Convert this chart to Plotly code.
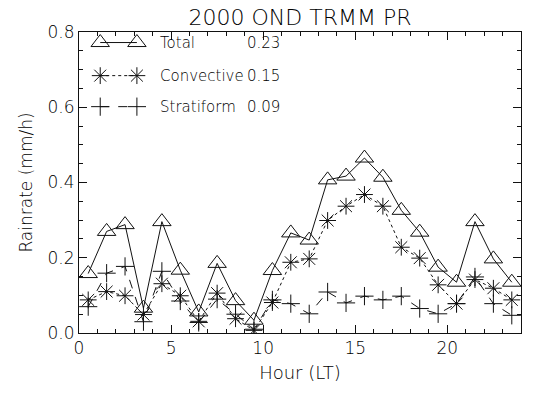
import plotly.graph_objects as go

hours = [h + 0.5 for h in range(24)]
total = [0.158, 0.270, 0.288, 0.066, 0.296, 0.167, 0.056, 0.185, 0.086, 0.034,
         0.166, 0.266, 0.247, 0.407, 0.417, 0.465, 0.414, 0.326, 0.268, 0.175,
         0.135, 0.296, 0.197, 0.135]
convective = [0.088, 0.110, 0.099, 0.049, 0.131, 0.099, 0.031, 0.106, 0.038, 0.007,
              0.081, 0.188, 0.197, 0.299, 0.337, 0.368, 0.337, 0.228, 0.199, 0.128,
              0.078, 0.142, 0.119, 0.088]
stratiform = [0.070, 0.159, 0.177, 0.030, 0.164, 0.085, 0.028, 0.090, 0.050, 0.010,
              0.088, 0.078, 0.051, 0.109, 0.080, 0.098, 0.088, 0.098, 0.065, 0.051,
              0.078, 0.149, 0.078, 0.047]
names = ["Total", "Convective", "Stratiform"]
means = ["0.23", "0.15", "0.09"]

FONT = "DejaVu Sans"
INK = "#111111"
TXT = "#000000"

styles = [
    dict(symbol="triangle-up-open", size=16, dash="solid"),
    dict(symbol="asterisk-open", size=14, dash="dot"),
    dict(symbol="cross-thin-open", size=13, dash="dash"),
]

fig = go.Figure()
for series, st in zip([total, convective, stratiform], styles):
    fig.add_trace(go.Scatter(
        x=hours, y=series, mode="lines+markers",
        line=dict(color=INK, width=1, dash=st["dash"]),
        marker=dict(symbol=st["symbol"], size=st["size"], color=INK,
                    line=dict(color=INK, width=1)),
        showlegend=False, xaxis="x", yaxis="y"))

# hand-drawn legend on an overlay axis (layout positions, not data)
leg_x = [0.048, 0.131]
leg_y = [0.965, 0.855, 0.752]
for i, st in enumerate(styles):
    fig.add_trace(go.Scatter(
        x=leg_x, y=[leg_y[i]] * 2, mode="lines+markers",
        line=dict(color=INK, width=1, dash=st["dash"]),
        marker=dict(symbol=st["symbol"], size=st["size"], color=INK,
                    line=dict(color=INK, width=1)),
        showlegend=False, xaxis="x2", yaxis="y2", hoverinfo="skip"))
    fig.add_annotation(x=0.178, y=leg_y[i], xref="paper", yref="paper",
                       text=names[i], showarrow=False, xanchor="left",
                       yanchor="middle",
                       font=dict(family=FONT, size=15, color=TXT, weight=300))
    fig.add_annotation(x=0.375, y=leg_y[i], xref="paper", yref="paper",
                       text=means[i], showarrow=False, xanchor="left",
                       yanchor="middle",
                       font=dict(family=FONT, size=15, color=TXT, weight=300))

axis_common = dict(showline=True, linecolor=INK, linewidth=1, mirror="ticks",
                   ticks="inside", ticklen=8, tickcolor=INK, tickwidth=1,
                   showgrid=False, zeroline=False,
                   tickfont=dict(family=FONT, size=17, color=TXT, weight=300))

fig.update_layout(
    width=539, height=393,
    margin=dict(l=79, r=18, t=32, b=60),
    paper_bgcolor="white", plot_bgcolor="white",
    title=dict(text="2000 OND TRMM PR", x=0.5, xanchor="center", y=0.957,
               yanchor="middle", xref="paper",
               font=dict(family=FONT, size=22, color=TXT, weight=300)),
    xaxis=dict(range=[0, 24], dtick=5, tick0=0,
               minor=dict(dtick=1, ticks="inside", ticklen=4, tickcolor=INK),
               title=dict(text="Hour (LT)",
                          font=dict(family=FONT, size=18, color=TXT, weight=300),
                          standoff=8),
               **axis_common),
    yaxis=dict(range=[0, 0.8], dtick=0.2, tick0=0, tickformat=".1f",
               minor=dict(dtick=0.05, ticks="inside", ticklen=4, tickcolor=INK),
               title=dict(text="Rainrate (mm/h)",
                          font=dict(family=FONT, size=17, color=TXT, weight=300),
                          standoff=10),
               **axis_common),
    xaxis2=dict(range=[0, 1], overlaying="x", visible=False, fixedrange=True),
    yaxis2=dict(range=[0, 1], overlaying="y", visible=False, fixedrange=True),
)

fig.write_html("out.html")
